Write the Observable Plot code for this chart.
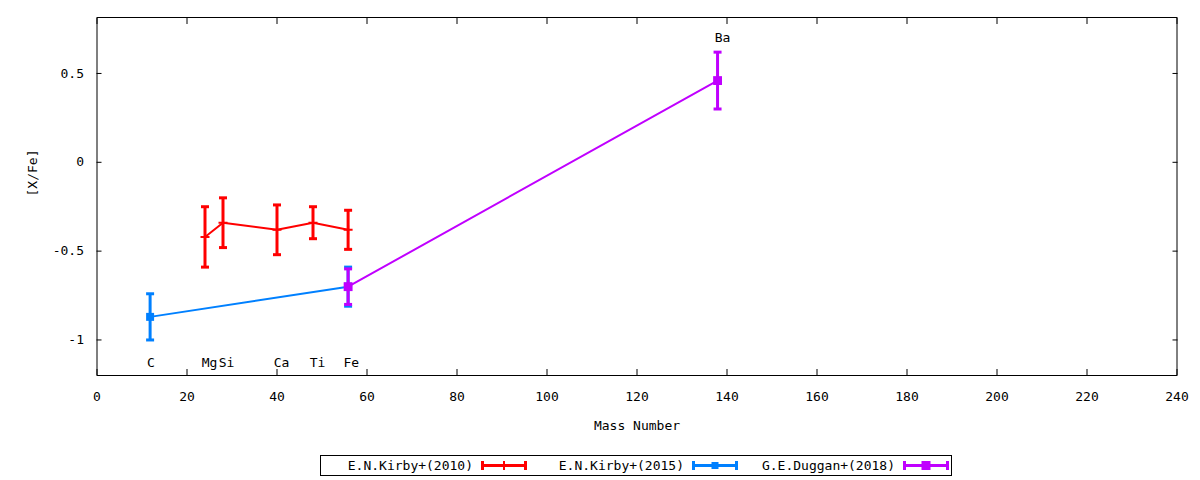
<!DOCTYPE html>
<html><head><meta charset="utf-8">
<script src="https://cdn.jsdelivr.net/npm/d3@7"></script>
<script src="https://cdn.jsdelivr.net/npm/@observablehq/plot@0.6"></script>
<style>
html,body{margin:0;padding:0;background:#fff;}
body{width:1200px;height:480px;position:relative;overflow:hidden;font-family:"DejaVu Sans Mono",monospace;}
#chart{position:absolute;left:0;top:0;}
#legend{position:absolute;left:320px;top:455px;width:630px;height:19px;border:1px solid #000;box-sizing:content-box;}
#legend .lab{position:absolute;top:1px;font-size:13px;line-height:17px;text-align:right;white-space:nowrap;color:#000;}
#legend svg{position:absolute;top:0;}
</style></head>
<body>
<div id="chart"></div>
<div id="legend"></div>
<script>
// ---- data ----
const kirby2010Mass = [24, 28, 40, 48, 55.8];
const kirby2010Val  = [-0.42, -0.34, -0.38, -0.34, -0.38];
const kirby2010Err  = [0.17, 0.14, 0.14, 0.09, 0.11];

const kirby2015Mass = [11.8, 55.8];
const kirby2015Val  = [-0.87, -0.70];
const kirby2015Err  = [0.13, 0.11];

const duggan2018Mass = [55.8, 137.9];
const duggan2018Val  = [-0.70, 0.46];
const duggan2018Err  = [0.10, 0.16];

const elementNames  = ["C", "Mg", "Si", "Ca", "Ti", "Fe", "Ba"];
const elementLabelX = [12, 25, 28.8, 41, 49, 56.5, 139];
const elementLabelY = [-1.13, -1.13, -1.13, -1.13, -1.13, -1.13, 0.70];

const xTicks = [0, 20, 40, 60, 80, 100, 120, 140, 160, 180, 200, 220, 240];
const yTicks = [-1, -0.5, 0, 0.5];

const seriesNames  = ["E.N.Kirby+(2010)", "E.N.Kirby+(2015)", "G.E.Duggan+(2018)"];
const seriesColors = ["#ff0000", "#0080ff", "#c000ff"];

// ---- tables built from the arrays ----
const table = (m, v, e) => m.map((x, i) => ({mass: x, val: v[i], err: e[i]}));
const k10 = table(kirby2010Mass, kirby2010Val, kirby2010Err);
const k15 = table(kirby2015Mass, kirby2015Val, kirby2015Err);
const d18 = table(duggan2018Mass, duggan2018Val, duggan2018Err);
const labels = elementNames.map((n, i) => ({name: n, x: elementLabelX[i], y: elementLabelY[i]}));

const capSymbol = {draw(ctx, size) { const r = Math.sqrt(size / Math.PI); ctx.moveTo(-r, 0); ctx.lineTo(r, 0); }};

function seriesMarks(data, color, marker) {
  return [
    Plot.line(data, {x: "mass", y: "val", stroke: color, strokeWidth: 2}),
    Plot.ruleX(data, {x: "mass", y1: d => d.val - d.err, y2: d => d.val + d.err, stroke: color, strokeWidth: 3}),
    Plot.dot(data, {x: "mass", y: d => d.val + d.err, symbol: capSymbol, r: 4, stroke: color, strokeWidth: 3}),
    Plot.dot(data, {x: "mass", y: d => d.val - d.err, symbol: capSymbol, r: 4, stroke: color, strokeWidth: 3}),
    marker
  ];
}

const font = "DejaVu Sans Mono";

const chart = Plot.plot({
  width: 1200,
  height: 445,
  marginLeft: 96.5,
  marginRight: 23.5,
  marginTop: 17,
  marginBottom: 70,
  style: {fontFamily: font, fontSize: "13px", color: "#000", background: "#fff"},
  x: {domain: [0, 240]},
  y: {domain: [-1.2, 0.815]},
  marks: [
    Plot.frame({stroke: "#000", strokeWidth: 1}),
    Plot.axisX({ticks: xTicks, tickSize: -6, tickPadding: 22, label: null, fontSize: 13}),
    Plot.axisX({anchor: "top", ticks: xTicks, tickSize: -6, tickFormat: () => "", label: null}),
    Plot.axisY({ticks: yTicks, tickSize: -5, tickPadding: 18, label: null, tickFormat: d => String(d), fontSize: 13}),
    Plot.axisY({anchor: "right", ticks: yTicks, tickSize: -5, tickFormat: () => "", label: null}),
    Plot.text(["Mass Number"], {frameAnchor: "bottom", dy: 54, fontSize: 13}),
    Plot.text(["[X/Fe]"], {frameAnchor: "left", dx: -64, rotate: -90, fontSize: 13}),
    ...seriesMarks(k10, seriesColors[0],
      Plot.dot(k10, {x: "mass", y: "val", symbol: "plus", r: 3, stroke: seriesColors[0], strokeWidth: 2})),
    ...seriesMarks(k15, seriesColors[1],
      Plot.dot(k15, {x: "mass", y: "val", symbol: "square", r: 4.5, fill: seriesColors[1]})),
    ...seriesMarks(d18, seriesColors[2],
      Plot.dot(d18, {x: "mass", y: "val", symbol: "square", r: 5, fill: seriesColors[2]})),
    Plot.text(labels, {x: "x", y: "y", text: "name", fontSize: 13, fill: "#000"})
  ]
});
document.getElementById("chart").appendChild(chart);

// ---- legend below the chart ----
const legend = document.getElementById("legend");
const entryRight = [152, 363, 574];   // right edge of label inside legend box
seriesNames.forEach((name, i) => {
  const lab = document.createElement("div");
  lab.className = "lab";
  lab.textContent = name;
  lab.style.right = (630 - entryRight[i]) + "px";
  legend.appendChild(lab);
  const s = d3.create("svg").attr("width", 48).attr("height", 19)
    .style("left", (entryRight[i] + 7) + "px");
  const c = seriesColors[i];
  s.append("line").attr("x1", 2).attr("x2", 46).attr("y1", 9.5).attr("y2", 9.5).attr("stroke", c).attr("stroke-width", 3);
  s.append("line").attr("x1", 2.5).attr("x2", 2.5).attr("y1", 5).attr("y2", 14).attr("stroke", c).attr("stroke-width", 3);
  s.append("line").attr("x1", 45.5).attr("x2", 45.5).attr("y1", 5).attr("y2", 14).attr("stroke", c).attr("stroke-width", 3);
  if (i === 0) s.append("line").attr("x1", 24).attr("x2", 24).attr("y1", 5).attr("y2", 14).attr("stroke", c).attr("stroke-width", 2);
  if (i === 1) s.append("rect").attr("x", 20.5).attr("y", 6).attr("width", 7).attr("height", 7).attr("fill", c);
  if (i === 2) s.append("rect").attr("x", 19.5).attr("y", 5).attr("width", 9).attr("height", 9).attr("fill", c);
  legend.appendChild(s.node());
});
</script>
</body></html>
